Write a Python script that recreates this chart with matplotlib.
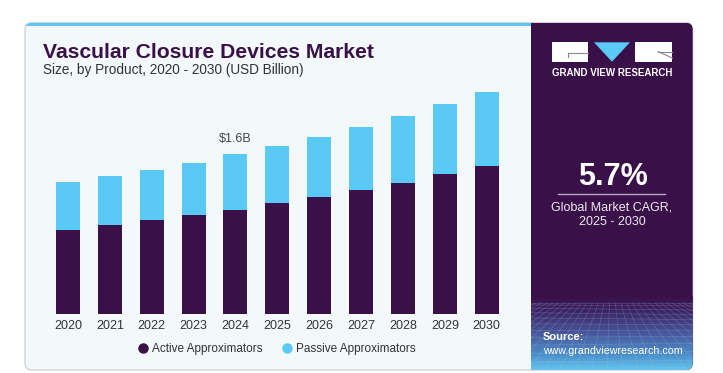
import numpy as np
import matplotlib.pyplot as plt
from matplotlib.patches import FancyBboxPatch, Rectangle, Polygon
from matplotlib.lines import Line2D
from matplotlib.colors import LinearSegmentedColormap

# data (USD billion)
years = ["2020", "2021", "2022", "2023", "2024", "2025", "2026", "2027", "2028", "2029", "2030"]
active = [0.835, 0.89, 0.935, 0.985, 1.04, 1.105, 1.165, 1.24, 1.31, 1.40, 1.48]
passive = [0.48, 0.49, 0.505, 0.525, 0.56, 0.575, 0.605, 0.63, 0.67, 0.70, 0.74]
series_names = ["Active Approximators", "Passive Approximators"]
highlight_year = "2024"
highlight_label = "\\$1.6B"
cagr_value = "5.7%"
cagr_text = "Global Market CAGR,\n2025 - 2030"

DARK = "#3A1048"
CYAN = "#5BC9F6"
BG = "#F3F8FB"
W, H = 723, 373
plt.rcParams['font.family'] = ['Liberation Sans', 'DejaVu Sans']

fig = plt.figure(figsize=(W / 100, H / 100), dpi=100)

# background drawn in pixel coordinates
bg = fig.add_axes([0, 0, 1, 1])
bg.set_xlim(0, W)
bg.set_ylim(H, 0)
bg.axis('off')

card = FancyBboxPatch((25, 22.7), 667.7, 347.3, boxstyle="round,pad=0,rounding_size=7",
                      fc=BG, ec="#CDCFD2", lw=0.9, zorder=1)
bg.add_patch(card)
strip = Rectangle((25, 22.7), 506, 3.8, fc=CYAN, ec='none', zorder=2)
bg.add_patch(strip)
strip.set_clip_path(card)
panel = Rectangle((530.7, 22.7), 162, 347.3, fc=DARK, ec='none', zorder=2)
bg.add_patch(panel)
panel.set_clip_path(card)

# gradient + mesh at bottom of the side panel
grad_cmap = LinearSegmentedColormap.from_list(
    "g", [(0, DARK), (0.2, "#3C2464"), (0.5, "#48579A"), (0.8, "#4D8FCA"), (1, "#64C6F0")])
grad = np.linspace(0, 1, 100).reshape(-1, 1)
im = bg.imshow(grad, cmap=grad_cmap, extent=(530.7, 692.7, 370, 296), aspect='auto', zorder=3)
im.set_clip_path(card)
mesh_clip = Rectangle((530.7, 303), 162, 67, transform=bg.transData)
for x0 in np.linspace(380, 850, 30):
    ln, = bg.plot([611 + (x0 - 611) * 0.35, x0], [303, 372], color="#A9CFF0", lw=0.4, alpha=0.3, zorder=4)
    ln.set_clip_path(mesh_clip)
for t in np.linspace(0, 1, 12):
    y = 303 + 68 * t ** 1.5
    ln, = bg.plot([530, 693], [y, y + 2 * np.sin(t * 6)], color="#A9CFF0", lw=0.4, alpha=0.3, zorder=4)
    ln.set_clip_path(mesh_clip)

# logo
bg.add_patch(Rectangle((551.7, 42.3), 36.6, 19.4, fc="white", ec='none', zorder=5))
bg.plot([568.3, 588.3], [52.7, 52.7], color="#8E8296", lw=0.8, zorder=6)
bg.plot([568.3, 568.3], [52.7, 56.5], color="#8E8296", lw=0.8, zorder=6)
bg.add_patch(Polygon([(594, 42.3), (630, 42.3), (612, 61.7)], closed=True, fc=CYAN, ec='none', zorder=5))
bg.add_patch(Rectangle((635, 42.3), 37.3, 19.4, fc="white", ec='none', zorder=5))
bg.plot([658.3, 672.3], [51.7, 51.7], color="#8E8296", lw=0.8, zorder=6)
bg.plot([658.3, 672.3], [51.7, 58], color="#8E8296", lw=0.8, zorder=6)
bg.text(612, 73, "GRAND VIEW RESEARCH", color="white", fontsize=7.0, fontweight='bold',
        ha='center', va='center', zorder=6)

# side panel texts
bg.text(612.5, 177, cagr_value, color="white", fontsize=22, fontweight='bold', ha='center', va='center', zorder=6)
bg.plot([558, 665], [194.3, 194.3], color="#B7A8C4", lw=1, zorder=6)
bg.text(612, 214.5, cagr_text, color="#EEE8F2", fontsize=9, ha='center', va='center',
        linespacing=1.25, zorder=6)
bg.text(543, 337.5, "Source:", color="white", fontsize=8, fontweight='bold', ha='left', va='center', zorder=6)
bg.text(543, 351, "www.grandviewresearch.com", color="white", fontsize=7.7, ha='left', va='center', zorder=6)

# titles
bg.text(42.7, 57.7, "Vascular Closure Devices Market", color=DARK, fontsize=15.2, fontweight='bold',
        ha='left', va='baseline', zorder=6)
bg.text(42.7, 74.3, "Size, by Product, 2020 - 2030 (USD Billion)", color="#333333", fontsize=9.8,
        ha='left', va='baseline', zorder=6)

# bar chart
step = 41.87
ax = fig.add_axes([40 / W, (H - 314) / H, 475 / W, 234 / H])
ax.patch.set_alpha(0)
x = np.arange(len(years))
ax.bar(x, active, width=24 / step, color=DARK, zorder=3)
ax.bar(x, passive, width=24 / step, bottom=active, color=CYAN, zorder=3)
ax.set_xlim((40 - 68) / step, (515 - 68) / step)
ax.set_ylim(0, 234 / 100.2)
for s in ax.spines.values():
    s.set_visible(False)
ax.set_yticks([])
ax.set_xticks(x, years)
ax.tick_params(axis='x', length=0, pad=4, labelsize=9, labelcolor="#333333")

i = years.index(highlight_year)
ax.annotate(highlight_label, (i, active[i] + passive[i]), xytext=(0, 10.4), textcoords='offset points',
            ha='center', va='center', fontsize=9, color="#444444")

handles = [Line2D([], [], marker='o', ls='', color=DARK, markersize=6.5),
           Line2D([], [], marker='o', ls='', color=CYAN, markersize=6.5)]
fig.legend(handles, series_names, loc='center', bbox_to_anchor=(277 / W, (H - 349) / H), ncol=2,
           frameon=False, fontsize=8.5, handlelength=0.8, handletextpad=0.4, columnspacing=1.6,
           labelcolor="#333333")

fig.savefig("out.png", dpi=100)
